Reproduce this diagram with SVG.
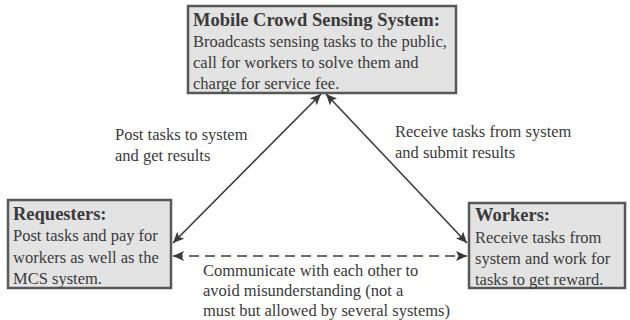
<svg xmlns="http://www.w3.org/2000/svg" width="630" height="320" viewBox="0 0 630 320">
<style>
.box{fill:#e3e3e3;stroke:#585858;stroke-width:2.5}
.t{font-size:16.5px;fill:#3a3a3a}
.b{font-size:18.5px;font-weight:bold;fill:#3a3a3a}
.c{stroke:#3a3a3a;stroke-width:1.6;fill:none}
.d{stroke-dasharray:10 6}
</style>
<defs>
<marker id="ah" markerUnits="userSpaceOnUse" markerWidth="12" markerHeight="10" refX="11" refY="5" orient="auto-start-reverse">
<path d="M0,0 L11,5 L0,10 L2.5,5 z" fill="#3a3a3a"/>
</marker>
</defs>
<rect width="630" height="320" fill="#ffffff"/>
<g font-family="Liberation Serif, Times New Roman, DejaVu Serif, serif">
<g id="connectors">
<line class="c" x1="173" y1="243" x2="321" y2="94" marker-start="url(#ah)" marker-end="url(#ah)"/>
<line class="c" x1="467" y1="243" x2="326" y2="94" marker-start="url(#ah)" marker-end="url(#ah)"/>
<line class="c d" x1="173" y1="256" x2="467" y2="256" marker-start="url(#ah)" marker-end="url(#ah)"/>
<text class="t" x="115" y="140">Post tasks to system</text>
<text class="t" x="115" y="161">and get results</text>
<text class="t" x="395" y="137">Receive tasks from system</text>
<text class="t" x="395" y="158">and submit results</text>
<text class="t" x="203" y="276">Communicate with each other to</text>
<text class="t" x="203" y="296">avoid misunderstanding (not a</text>
<text class="t" x="203" y="316">must but allowed by several systems)</text>
</g>
<g id="mcs">
<rect class="box" x="188" y="6" width="268" height="87"/>
<text class="b" x="193" y="26">Mobile Crowd Sensing System:</text>
<text class="t" x="193" y="47">Broadcasts sensing tasks to the public,</text>
<text class="t" x="193" y="68">call for workers to solve them and</text>
<text class="t" x="193" y="89">charge for service fee.</text>
</g>
<g id="requesters">
<rect class="box" x="8" y="200" width="163" height="88"/>
<text class="b" x="13" y="220">Requesters:</text>
<text class="t" x="13" y="241">Post tasks and pay for</text>
<text class="t" x="13" y="263">workers as well as the</text>
<text class="t" x="13" y="284">MCS system.</text>
</g>
<g id="workers">
<rect class="box" x="469" y="203" width="156" height="85"/>
<text class="b" x="475" y="221">Workers:</text>
<text class="t" x="475" y="243">Receive tasks from</text>
<text class="t" x="475" y="264">system and work for</text>
<text class="t" x="475" y="285">tasks to get reward.</text>
</g>
</g>
</svg>
